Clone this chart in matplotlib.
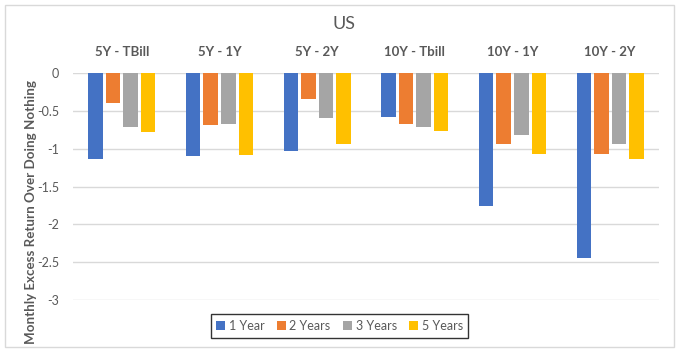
import matplotlib.pyplot as plt
import numpy as np
from matplotlib.patches import Rectangle

plt.rcParams["font.family"] = ["Lato", "DejaVu Sans"]

pairs = ["5Y - TBill", "5Y - 1Y", "5Y - 2Y", "10Y - Tbill", "10Y - 1Y", "10Y - 2Y"]
series_names = ["1 Year", "2 Years", "3 Years", "5 Years"]
one_year = [-1.13, -1.10, -1.035, -0.575, -1.76, -2.44]
two_years = [-0.40, -0.69, -0.35, -0.67, -0.94, -1.075]
three_years = [-0.72, -0.67, -0.59, -0.71, -0.825, -0.94]
five_years = [-0.785, -1.09, -0.94, -0.76, -1.075, -1.13]
yticks = [0, -0.5, -1, -1.5, -2, -2.5, -3]

colors = ["#4472C4", "#ED7D31", "#A5A5A5", "#FFC000"]
txt = "#595959"

fig = plt.figure(figsize=(6.84, 3.55), dpi=100)
ax = fig.add_axes([73 / 684, 1 - 300 / 355, 586 / 684, 227 / 355])

x = np.arange(len(pairs))
step = 0.18
width = 0.148
for i, (vals, name) in enumerate(zip([one_year, two_years, three_years, five_years], series_names)):
    ax.bar(x + (i - 1.5) * step, vals, width, color=colors[i], label=name, zorder=3)

ax.set_xlim(-0.5, len(pairs) - 0.5)
ax.set_ylim(-3, 0)
ax.set_yticks(yticks)
ax.set_yticklabels(["0", "-0.5", "-1", "-1.5", "-2", "-2.5", "-3"], color=txt, fontsize=9)
ax.tick_params(axis="y", length=0, pad=10)
ax.set_xticks([])
ax.grid(axis="y", color="#d9d9d9", linewidth=1, zorder=0)
for s in ax.spines.values():
    s.set_visible(False)

# category labels sit above the plot
for xi, lab in zip(x, pairs):
    ax.text(xi, 1 + 21 / 227, lab, ha="center", va="center", fontsize=9.5, fontweight="bold",
            color=txt, transform=ax.get_xaxis_transform())

fig.text(344 / 684, 1 - 24 / 355, "US", ha="center", va="center", fontsize=13, color=txt)
fig.text(31 / 684, 1 - 212 / 355, "Monthly Excess Return Over Doing Nothing", rotation=90,
         ha="center", va="center", fontsize=9.6, fontweight="bold", color=txt)

leg = fig.legend(loc="center", bbox_to_anchor=(339.5 / 684, 1 - 326 / 355), ncol=4,
                 frameon=True, fancybox=False, fontsize=9, handlelength=0.7, handleheight=0.7,
                 handletextpad=0.3, columnspacing=1.0, borderpad=0.45)
leg.get_frame().set_edgecolor("black")
leg.get_frame().set_linewidth(1)
for t in leg.get_texts():
    t.set_color(txt)

fig.patches.append(Rectangle((5 / 684, 1 - 347 / 355), 669 / 684, 342 / 355, transform=fig.transFigure,
                             fill=False, edgecolor="#d9d9d9", linewidth=1))

plt.savefig("out.png", dpi=100)
